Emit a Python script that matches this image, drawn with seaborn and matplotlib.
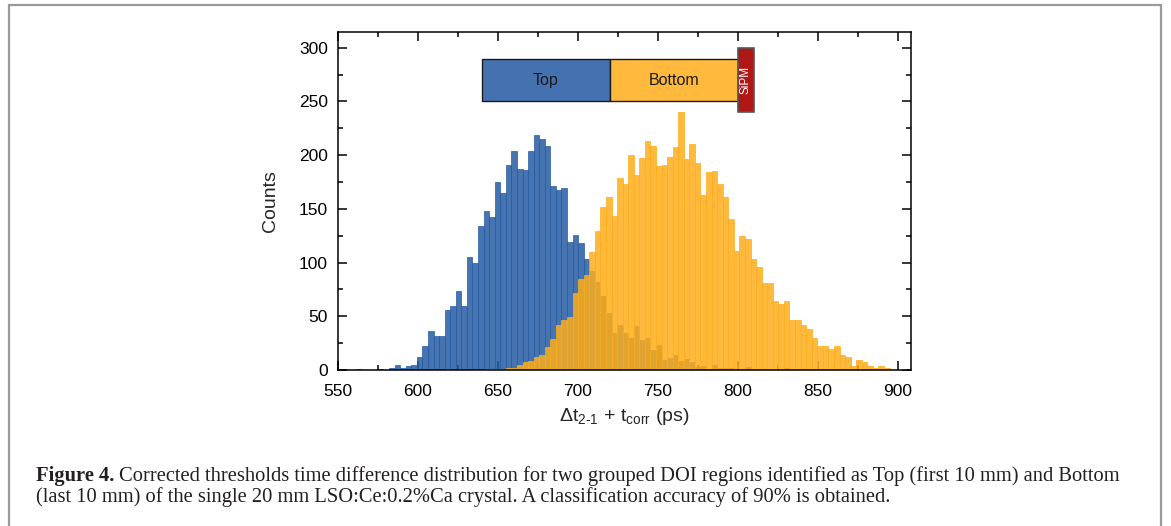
import numpy as np
import pandas as pd
import matplotlib
matplotlib.use("Agg")
import matplotlib.pyplot as plt
import seaborn as sns
from matplotlib.patches import Rectangle
from matplotlib.ticker import MultipleLocator

# ---------------- data ----------------
bin_start = 550.8
bin_width = 3.476

top_counts = [
    0, 0, 0, 1, 0, 0, 0, 1, 0, 2,
    5, 2, 4, 5, 12, 22, 36, 32, 32, 56,
    60, 74, 60, 105, 100, 134, 148, 142, 175, 165,
    191, 204, 187, 186, 204, 219, 215, 209, 171, 168,
    169, 119, 126, 118, 103, 92, 82, 69, 53, 34,
    42, 34, 30, 41, 28, 30, 19, 23, 9, 11,
    14, 8, 10, 7, 3, 4, 1, 5, 2, 2,
    2, 1, 1, 3, 0, 0, 0, 0, 0, 0,
    2, 0, 0, 0, 0, 0, 0, 0, 0, 0,
    0, 0, 0, 0, 0, 0, 0, 0, 0, 0,
    0, 0,
]
bottom_counts = [
    0, 0, 0, 0, 0, 0, 0, 0, 0, 0,
    0, 0, 0, 0, 0, 0, 0, 0, 0, 1,
    0, 0, 0, 0, 0, 0, 1, 1, 1, 1,
    2, 2, 5, 7, 8, 12, 14, 21, 29, 42,
    47, 49, 72, 85, 88, 110, 129, 152, 161, 143,
    179, 173, 200, 182, 197, 213, 209, 190, 191, 198,
    208, 240, 196, 210, 193, 163, 184, 185, 173, 161,
    141, 111, 125, 122, 103, 96, 81, 81, 64, 61,
    64, 47, 47, 42, 38, 30, 22, 22, 20, 22,
    14, 12, 4, 9, 7, 4, 2, 4, 2, 0,
    0, 1,
]
x_ticks = [550, 600, 650, 700, 750, 800, 850, 900]
y_ticks = [0, 50, 100, 150, 200, 250, 300]
region_names = ["Top", "Bottom", "SiPM"]

caption_bold = "Figure 4."
caption_line1 = ("Corrected thresholds time difference distribution for two grouped DOI "
                 "regions identified as Top (first 10 mm) and Bottom")
caption_line2 = ("(last 10 mm) of the single 20 mm LSO:Ce:0.2%Ca crystal. "
                 "A classification accuracy of 90% is obtained.")

# ---------------- style ----------------
sns.set_theme(style="ticks")
plt.rcParams["font.family"] = ["Liberation Sans", "DejaVu Sans"]
plt.rcParams["mathtext.fontset"] = "custom"
plt.rcParams["mathtext.rm"] = "Liberation Sans"
plt.rcParams["mathtext.it"] = "Liberation Sans:italic"
plt.rcParams["mathtext.bf"] = "Liberation Sans:bold"

W, H = 1171, 526
fig = plt.figure(figsize=(W / 100, H / 100), dpi=100)
fig.patch.set_facecolor("white")

ax_l, ax_r, ax_b, ax_t = 337.7, 911.0, 370.0, 32.0
ax = fig.add_axes([ax_l / W, 1 - ax_b / H, (ax_r - ax_l) / W, (ax_b - ax_t) / H])

blue = (38 / 255, 92 / 255, 163 / 255)
orange = (255 / 255, 173 / 255, 26 / 255)

n = len(top_counts)
edges = [float(bin_start + bin_width * i) for i in range(n + 1)]
centers = [e + bin_width / 2 for e in edges[:-1]]
df_top = pd.DataFrame({"t": centers, "counts": top_counts})
df_bottom = pd.DataFrame({"t": centers, "counts": bottom_counts})

sns.histplot(data=df_top, x="t", weights="counts", bins=edges, color=blue, alpha=0.85,
             edgecolor=blue, linewidth=0.5, ax=ax)
sns.histplot(data=df_bottom, x="t", weights="counts", bins=edges, color=orange, alpha=0.85,
             edgecolor=orange, linewidth=0.5, ax=ax)

ax.set_xlim(550, 908.3)
ax.set_ylim(0, 314.7)
ax.set_xticks(x_ticks)
ax.set_yticks(y_ticks)
ax.xaxis.set_minor_locator(MultipleLocator(25))
ax.yaxis.set_minor_locator(MultipleLocator(25))
ax.tick_params(which="both", direction="in", top=True, right=True, colors="black",
               width=1.1, labelsize=12.5, pad=7)
ax.tick_params(axis="x", which="both", pad=10)
ax.tick_params(which="major", length=6.5)
ax.tick_params(which="minor", length=3.5)
for sp in ax.spines.values():
    sp.set_visible(True)
    sp.set_color("black")
    sp.set_linewidth(1.1)

ax.set_xlabel("\u0394t$_{2\\text{-}1}$ + t$_{\\mathrm{corr}}$ (ps)", fontsize=14, labelpad=5)
ax.set_ylabel("Counts", fontsize=14, labelpad=14)

# crystal diagram
ax.add_patch(Rectangle((640, 250), 80, 40, facecolor="#4472b0", edgecolor="#1a1a1a",
                       linewidth=1.0, zorder=5))
ax.add_patch(Rectangle((720, 250), 80, 40, facecolor="#ffb93c", edgecolor="#1a1a1a",
                       linewidth=1.0, zorder=5))
ax.add_patch(Rectangle((800, 240), 10, 60, facecolor="#b01818", edgecolor="#555555",
                       linewidth=1.2, zorder=6))
ax.text(680, 270, region_names[0], ha="center", va="center", fontsize=11.5,
        color="#1a1a1a", zorder=7)
ax.text(760, 270, region_names[1], ha="center", va="center", fontsize=11.5,
        color="#1a1a1a", zorder=7)
ax.text(805, 270, region_names[2], ha="center", va="center", fontsize=8.5,
        color="white", rotation=90, zorder=7)

# frame around figure
fig.add_artist(Rectangle((8.5 / W, -0.05), (1161 - 8.5) / W, (H - 5 + 0.05 * H) / H,
                         transform=fig.transFigure, fill=False, edgecolor="#9a9a9a",
                         linewidth=1.6))

# caption, fitted to reference width
fig.canvas.draw()
renderer = fig.canvas.get_renderer()


def width_px(s, fs, weight="normal"):
    t = fig.text(0, 0, s, fontsize=fs, fontfamily="Liberation Serif", fontweight=weight)
    w = t.get_window_extent(renderer).width
    t.remove()
    return w


fs0 = 12.0
wb = width_px(caption_bold, fs0, "bold")
wsp = width_px("a a", fs0) - width_px("aa", fs0)
wr = width_px(caption_line1, fs0)
scale = (1123 - 36) / (wb + wsp + wr)
fs = fs0 * scale
wb *= scale
wsp *= scale

x0 = 36
y1 = 481
y2 = 502
fig.text(x0 / W, 1 - y1 / H, caption_bold, fontsize=fs, fontfamily="Liberation Serif",
         fontweight="bold", va="baseline", ha="left", color="#231f20")
fig.text((x0 + wb + wsp) / W, 1 - y1 / H, caption_line1, fontsize=fs,
         fontfamily="Liberation Serif", va="baseline", ha="left", color="#231f20")
fig.text(x0 / W, 1 - y2 / H, caption_line2, fontsize=fs, fontfamily="Liberation Serif",
         va="baseline", ha="left", color="#231f20")

fig.savefig("out.png", dpi=100, facecolor="white")
